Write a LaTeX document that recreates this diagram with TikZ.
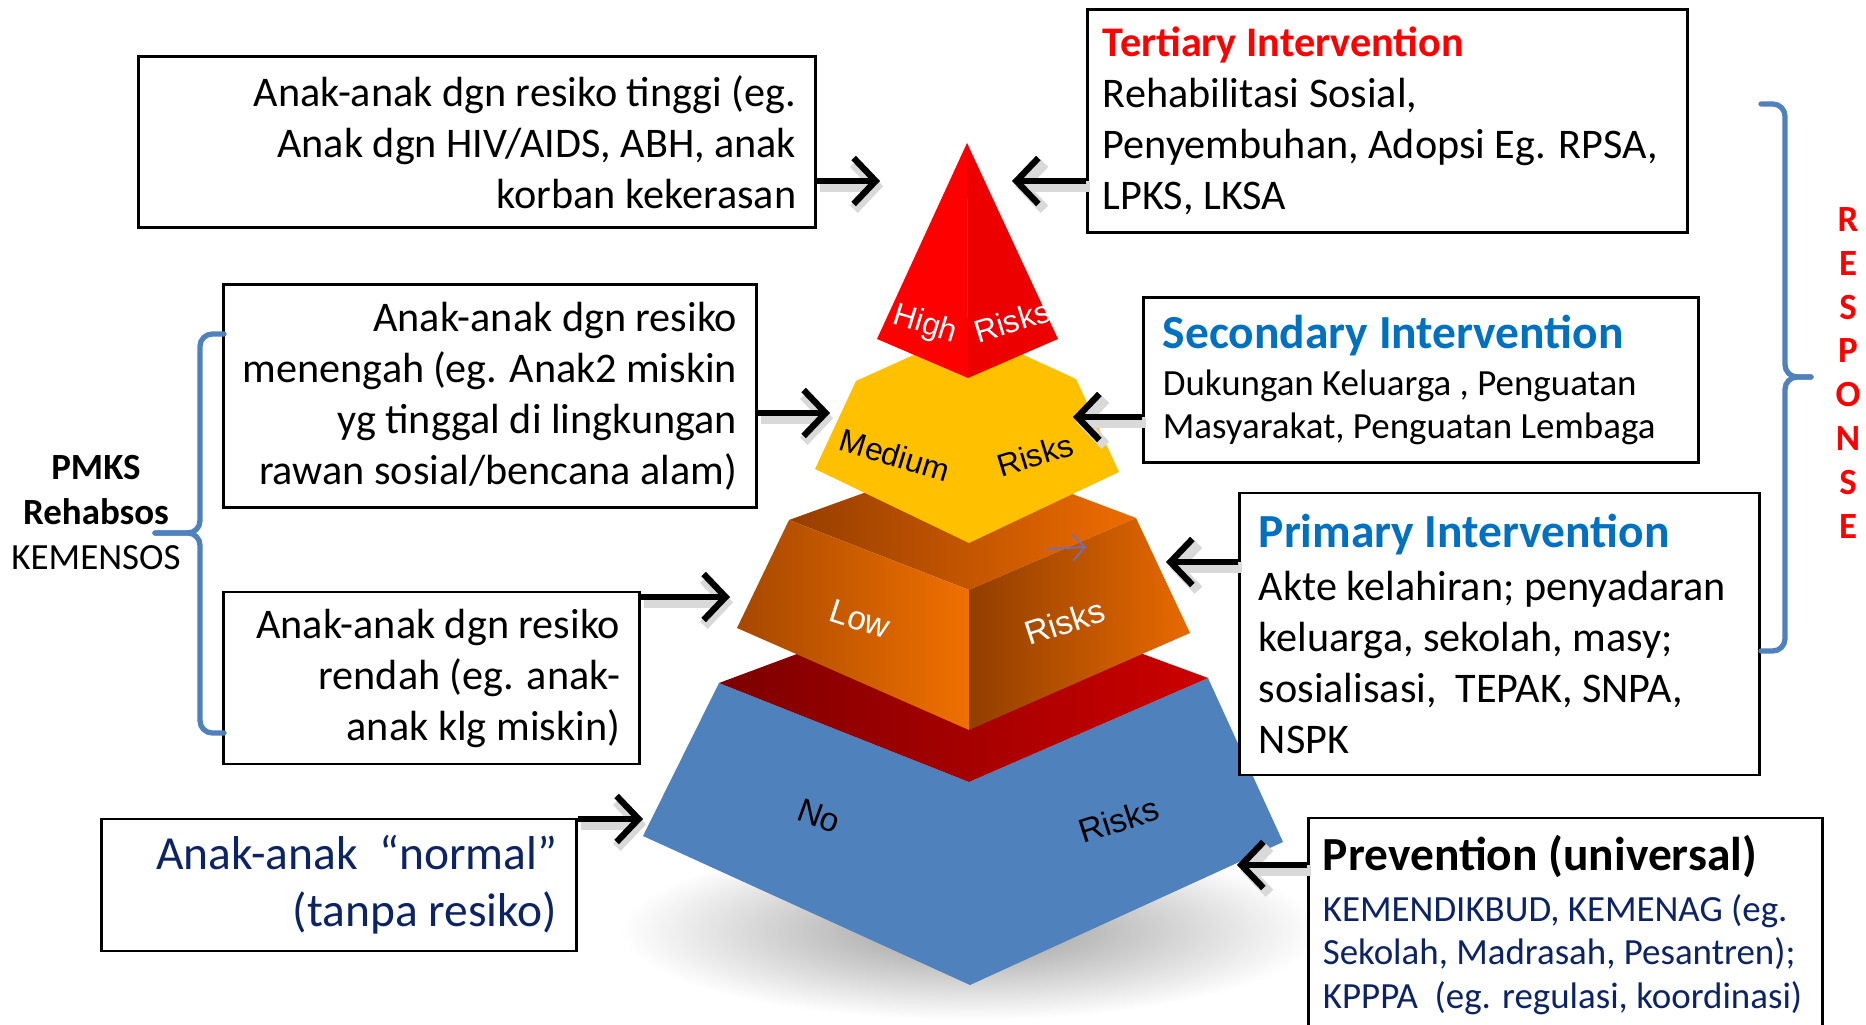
\documentclass[tikz,border=0pt]{standalone}
\usepackage{fontspec}
\setmainfont{Carlito}
\newfontfamily\arialfont{Liberation Sans}
\usetikzlibrary{arrows.meta}

\definecolor{tblue}{RGB}{0,112,192}
\definecolor{navytxt}{RGB}{12,36,102}
\definecolor{bracecol}{RGB}{79,129,189}
\definecolor{nofill}{RGB}{79,129,189}
\definecolor{notopL}{RGB}{125,0,0}
\definecolor{notopR}{RGB}{204,0,0}
\definecolor{lowtopL}{RGB}{150,62,0}
\definecolor{lowtopR}{RGB}{238,108,0}
\definecolor{lowleftL}{RGB}{166,72,0}
\definecolor{lowleftR}{RGB}{240,112,0}
\definecolor{lowrightL}{RGB}{145,62,0}
\definecolor{lowrightR}{RGB}{232,106,0}
\definecolor{medfill}{RGB}{255,192,0}
\definecolor{stray}{RGB}{112,112,192}

\begin{document}
\begin{tikzpicture}[x=0.01cm,y=-0.01cm,
	box/.style={draw, line width=0.8pt, fill=white, inner xsep=0.19cm, inner ysep=0pt},
	body/.style={font=\fontsize{12}{14.5}\selectfont},
	arr/.style={->, >={Straight Barb[length=2.2mm,width=4.6mm]}, line width=1.8pt,
		every edge/.append style={preaction={draw=black!15, line width=3pt, transform canvas={shift={(0.9pt,-1.5pt)}}}}},
	lbl/.style={font=\arialfont\fontsize{9}{10}\selectfont, inner sep=0pt},
	brace/.style={draw=bracecol, line width=1.5pt, rounded corners=3.5pt, line cap=round}]
	\clip (0,0) rectangle (1866,1025);
	% pyramid
	\shade[inner color=black!40, outer color=white] (970,930) ellipse [x radius=350, y radius=90];
	\fill[nofill] (719,683) -- (969,782) -- (1208,678) -- (1283,842) -- (970,985) -- (643,836) -- cycle;
	\shade[left color=notopL, right color=notopR] (719,683) -- (969,590) -- (1208,678) -- (969,782) -- cycle;
	\shade[left color=lowtopL, right color=lowtopR] (789,520) -- (969,455) -- (1136,518) -- (969,590) -- cycle;
	\shade[left color=lowleftL, right color=lowleftR] (789,520) -- (969,590) -- (969,730) -- (737,628) -- cycle;
	\shade[left color=lowrightL, right color=lowrightR] (969,590) -- (1136,518) -- (1190,633) -- (969,730) -- cycle;
	\fill[medfill] (856,381) -- (969,330) -- (1076,379) -- (1119,472) -- (969,543) -- (815,469) -- cycle;
	\fill[red] (967,143) -- (877,339) -- (968,378) -- cycle;
	\fill[red!93!black] (967,143) -- (968,378) -- (1058,339) -- cycle;
	% layer labels
	\node[lbl, text=white, rotate=-17] (hi1) at (925,325) {High};
	\node[lbl, text=white, rotate=17] (hi2) at (1012,321) {Risks};
	\node[lbl, rotate=-17] (med1) at (895,455) {Medium};
	\node[lbl, rotate=17] (med2) at (1035,455) {Risks};
	\node[lbl, text=white, rotate=-18, font=\arialfont\fontsize{9.5}{10}\selectfont] (low1) at (860,619) {Low};
	\node[lbl, text=white, rotate=18, font=\arialfont\fontsize{9.5}{10}\selectfont] (low2) at (1065,622) {Risks};
	\node[lbl, rotate=-20, font=\arialfont\fontsize{9.5}{10}\selectfont] (no1) at (819,816) {No};
	\node[lbl, rotate=18, font=\arialfont\fontsize{9.5}{10}\selectfont] (no2) at (1119,820) {Risks};
	\coordinate (pa) at (1047,549);
	\coordinate (pb) at (1086,547);
	\draw[->, >={Straight Barb[length=1.2mm,width=2.6mm]}, line width=0.5pt, draw=stray] (pa) -- (pb);
	% boxes
	\node[box, body, text width=6.38cm, minimum height=1.71cm, align=flush right] (hdesc) at (477,142)
		{Anak-anak dgn resiko tinggi (eg.\\ Anak dgn HIV/AIDS, ABH, anak\\ korban kekerasan};
	\node[box, body, inner xsep=0.15cm, text width=5.69cm, minimum height=2.23cm, align=flush left] (tert) at (1387.5,121)
		{\textcolor{red}{\bfseries Tertiary Intervention}\\ Rehabilitasi Sosial,\\ Penyembuhan, Adopsi Eg. RPSA,\\ LPKS, LKSA};
	\node[box, body, text width=4.94cm, minimum height=2.23cm, align=flush right] (mdesc) at (490,396)
		{Anak-anak dgn resiko\\ menengah (eg. Anak2 miskin\\ yg tinggal di lingkungan\\ rawan sosial/bencana alam)};
	\node[box, font=\fontsize{10.5}{12.2}\selectfont, text width=5.16cm, minimum height=1.65cm, align=flush left] (sec) at (1421,380)
		{{\fontsize{13.5}{16}\selectfont\bfseries\color{tblue}Secondary Intervention}\\[1.2pt] Dukungan Keluarga , Penguatan\\ Masyarakat, Penguatan Lembaga};
	\node[box, body, text width=3.77cm, minimum height=1.72cm, align=flush right] (ldesc) at (431.5,678)
		{Anak-anak dgn resiko\\ rendah (eg. anak-\\ anak klg miskin)};
	\node[box, body, text width=4.81cm, minimum height=2.82cm, align=flush left] (prim) at (1499.5,634)
		{{\fontsize{13.5}{16}\selectfont\bfseries\color{tblue}Primary Intervention}\\[0.5pt] Akte kelahiran; penyadaran\\ keluarga, sekolah, masy;\\ sosialisasi,\ \ TEPAK, SNPA,\\ NSPK};
	\node[box, font=\fontsize{13.5}{16.2}\selectfont, text=navytxt, text width=4.36cm, minimum height=1.32cm, align=flush right] (ndesc) at (339,885)
		{Anak-anak\ \ “normal”\\ (tanpa resiko)};
	\node[box, font=\fontsize{10.5}{12.4}\selectfont, text=navytxt, inner xsep=0.14cm, text width=4.85cm, minimum height=2.14cm, align=flush left] (prev) at (1565.5,925)
		{{\fontsize{13.5}{16}\selectfont\bfseries\color{black}Prevention (universal)}\\[2pt] KEMENDIKBUD, KEMENAG (eg.\\ Sekolah, Madrasah, Pesantren);\\ KPPPA\ \ (eg. regulasi, koordinasi)};
	% side labels
	\node[align=center, font=\fontsize{10.5}{12.8}\selectfont] (pmks) at (96,513)
		{\textbf{PMKS}\\ \textbf{Rehabsos}\\ KEMENSOS};
	\node[align=center, text=red, font=\bfseries\fontsize{10.5}{12.5}\selectfont] (resp) at (1848,373)
		{R\\E\\S\\P\\O\\N\\S\\E};
	% braces
	\draw[brace] (224,334) -- (200,334) -- (200,533) -- (155,533);
	\draw[brace] (155,533) -- (200,533) -- (200,733) -- (224,733);
	\draw[brace] (1761,104) -- (1785,104) -- (1785,377) -- (1811,377);
	\draw[brace] (1811,377) -- (1785,377) -- (1785,651) -- (1761,651);
	% arrow targets
	\coordinate (hiL) at (880,181);
	\coordinate (hiR) at (1012,181);
	\coordinate (medL) at (830,413);
	\coordinate (medR) at (1073,417);
	\coordinate (lowL) at (730,597);
	\coordinate (lowR) at (1166,562);
	\coordinate (noL) at (643,819);
	\coordinate (noR) at (1237,865);
	%
	\path[arr]
	% from the left
	(hiL -| hdesc.east) edge (hiL)
	(medL -| mdesc.east) edge (medL)
	(lowL -| ldesc.east) edge (lowL)
	(noL -| ndesc.east) edge (noL)
	% from the right
	(hiR -| tert.west) edge (hiR)
	(medR -| sec.west) edge (medR)
	(lowR -| prim.west) edge (lowR)
	(noR -| prev.west) edge (noR);
\end{tikzpicture}
\end{document}
